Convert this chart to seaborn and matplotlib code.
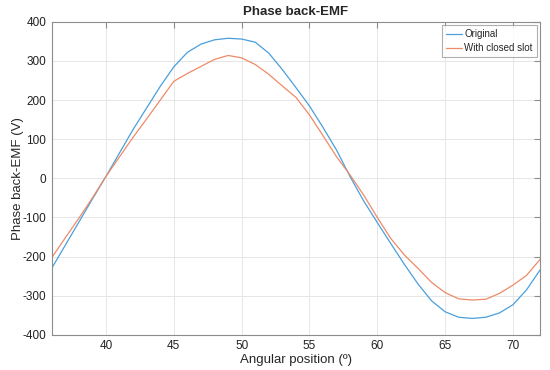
import pandas as pd
import matplotlib
matplotlib.use("Agg")
import matplotlib.pyplot as plt
import seaborn as sns

# angular position (deg)
angle = [36, 37, 38, 39, 40, 41, 42, 43, 44, 45, 46, 47, 48, 49, 50, 51, 52, 53, 54,
         55, 56, 57, 58, 59, 60, 61, 62, 63, 64, 65, 66, 67, 68, 69, 70, 71, 72]

original = [-230, -171, -112, -53, 5, 65, 125, 180, 235, 285, 322, 343, 354, 358, 356, 348,
            320, 278, 232, 185, 130, 72, 4, -58, -113, -167, -220, -270, -313, -341, -355,
            -358, -355, -344, -323, -285, -234]

closed_slot = [-203, -152, -102, -50, 5, 55, 105, 152, 200, 248, 268, 286, 304, 314, 308, 291,
               266, 236, 207, 162, 109, 55, 8, -43, -100, -154, -196, -230, -266, -292, -308,
               -311, -309, -294, -273, -248, -207]

df = pd.DataFrame({"angle": angle, "Original": original, "With closed slot": closed_slot})
long = df.melt(id_vars="angle", var_name="series", value_name="emf")

sns.set_style("whitegrid")
plt.rcParams["font.family"] = ["Liberation Sans", "DejaVu Sans"]
plt.rcParams["axes.unicode_minus"] = False

fig = plt.figure(figsize=(5.5, 3.7), dpi=100)
ax = fig.add_axes([0.094, 0.095, 0.888, 0.846])

sns.lineplot(data=long, x="angle", y="emf", hue="series",
             palette=["#4a9fdc", "#ee8a68"], linewidth=0.9, ax=ax)

ax.set_xlim(36, 72)
ax.set_ylim(-400, 400)
ax.set_xticks([40, 45, 50, 55, 60, 65, 70])
ax.set_yticks(range(-400, 401, 100))
ax.grid(True, color="#e6e6e6", linewidth=0.7)
for s in ax.spines.values():
    s.set_color("#8c8c8c")
    s.set_linewidth(0.8)
ax.tick_params(direction="in", length=4, color="#8c8c8c", labelsize=8.5,
               top=True, right=True, labelcolor="#222222", pad=4)

ax.set_title("Phase back-EMF", fontsize=9.5, fontweight="bold", pad=5)
ax.set_xlabel("Angular position (º)", fontsize=9.5, labelpad=1)
ax.set_ylabel("Phase back-EMF (V)", fontsize=9.5)
ax.yaxis.set_label_coords(-0.056, 0.5)

leg = ax.legend(title=None, loc="upper right", fontsize=7, frameon=True, fancybox=False,
                handlelength=1.7, handletextpad=0.2, borderpad=0.4, labelspacing=0.4,
                borderaxespad=0.35)
leg.get_frame().set_edgecolor("#9a9a9a")
leg.get_frame().set_linewidth(0.8)

fig.savefig("out.png", dpi=100)
